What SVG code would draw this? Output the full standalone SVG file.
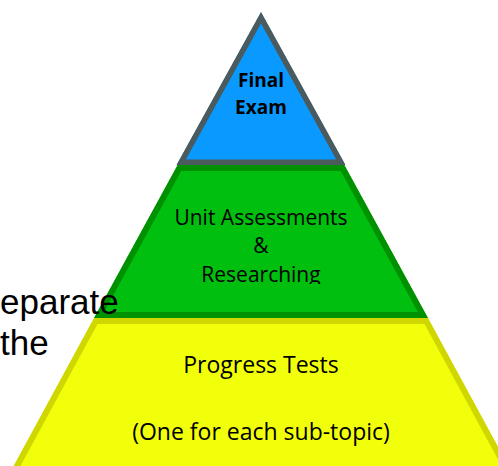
<svg xmlns="http://www.w3.org/2000/svg" width="498" height="466" viewBox="0 0 498 466">
  <style>
    .lbl { font-family: "Open Sans", "Noto Sans", sans-serif; font-size: 21px; fill: #000; text-anchor: middle; }
    .big { font-size: 23px; }
    .top { font-family: "Open Sans", "Noto Sans", sans-serif; font-size: 19px; font-weight: bold; fill: #000; text-anchor: middle; }
    .side { font-family: "Liberation Sans", Arial, sans-serif; font-size: 35px; fill: #000; }
  </style>
  <defs>
    <!-- tier outlines; strokes are clipped so the border sits inside each shape -->
    <clipPath id="clipTop"><polygon points="261,12 176.5,165 345.5,165"/></clipPath>
    <clipPath id="clipMid"><polygon points="177.6,165 344.4,165 428,318 94,318"/></clipPath>
    <clipPath id="clipBase"><polygon points="94,318 428,318 516,480 6,480"/></clipPath>
    <clipPath id="clipMidText"><rect x="90" y="165" width="340" height="119"/></clipPath>
  </defs>

  <g id="tier-base">
    <polygon points="94,318 428,318 516,480 6,480" fill="#f2ff0a" stroke="#cfd600" stroke-width="12" clip-path="url(#clipBase)"/>
    <text class="lbl big" x="261" y="373">Progress Tests</text>
    <text class="lbl big" x="261" y="440">(One for each sub-topic)</text>
  </g>

  <g id="tier-middle">
    <polygon points="177.6,165 344.4,165 428,318 94,318" fill="#00bf0f" stroke="#009100" stroke-width="12" clip-path="url(#clipMid)"/>
    <g clip-path="url(#clipMidText)">
      <text class="lbl" x="261" y="225">Unit Assessments</text>
      <text class="lbl" x="261" y="253">&amp;</text>
      <text class="lbl" x="261" y="282">Researching</text>
    </g>
  </g>

  <g id="tier-top">
    <polygon points="261,12 176.5,165 345.5,165" fill="#0a99ff" stroke="#4a5a5d" stroke-width="11" clip-path="url(#clipTop)"/>
    <text class="top" x="261" y="87">Final</text>
    <text class="top" x="261" y="114">Exam</text>
  </g>

  <g id="side-text">
    <text class="side" x="0" y="314">eparate</text>
    <text class="side" x="0" y="355">the</text>
  </g>
</svg>
